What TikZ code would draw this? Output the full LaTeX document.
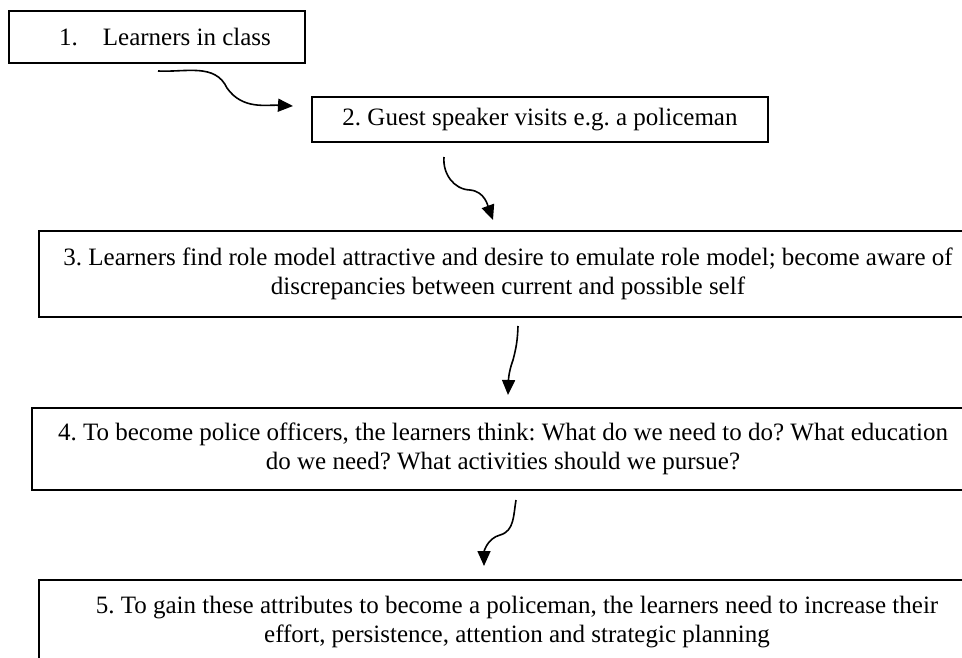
\documentclass[tikz,border=0pt]{standalone}
\usepackage{fontspec}
\setmainfont{Liberation Serif}
\usepackage{tikz}
\usetikzlibrary{arrows.meta, positioning}
\frenchspacing
\tikzset{
  flowbox/.style={draw, line width=1.3pt, align=center, inner sep=0pt, font=\fontsize{25}{29.5}\selectfont},
  flowarrow/.style={line width=1.6pt, -{Triangle[length=15pt,width=13pt]}}
}

\begin{document}
\begin{tikzpicture}[x=1pt, y=-1pt]
  \useasboundingbox (0,0) rectangle (962,657);
  \clip (0,0) rectangle (962,657);
  \node[flowbox, minimum width=296, minimum height=52] (learners) at (157,37) {\hspace*{16pt}1.\quad Learners in class};
  \node[flowbox, minimum width=456, minimum height=45] (speaker) at (540,119.5) {2. Guest speaker visits e.g. a policeman};
  \node[flowbox, minimum width=938, minimum height=86] (rolemodel) at (508,274) {3. Learners find role model attractive and desire to emulate role model; become aware of\\ discrepancies between current and possible self};
  \node[flowbox, minimum width=942, minimum height=82] (think) at (503,449) {4. To become police officers, the learners think: What do we need to do? What education\\ do we need? What activities should we pursue?};
  \node[flowbox, minimum width=956, minimum height=84] (attributes) at (517,622) {5. To gain these attributes to become a policeman, the learners need to increase their\\ effort, persistence, attention and strategic planning};

  \coordinate (a1s) at (158,71);  \coordinate (a1m) at (227,88);  \coordinate (a1e) at (293,106);
  \coordinate (a2s) at (444,157); \coordinate (a2m) at (470,190); \coordinate (a2e) at (493,220);
  \coordinate (a3s) at (518,326); \coordinate (a3m) at (513,360); \coordinate (a3e) at (508,395);
  \coordinate (a4s) at (516,500); \coordinate (a4m) at (500,535); \coordinate (a4e) at (484,566);

  \draw[flowarrow] (a1s) to[out=-3,in=115] (a1m) to[out=-55,in=177] (a1e);
  \draw[flowarrow] (a2s) to[out=-95,in=178] (a2m) to[out=-5,in=110] (a2e);
  \draw[flowarrow] (a3s) to[out=-92,in=75] (a3m) to[out=-110,in=88] (a3e);
  \draw[flowarrow] (a4s) to[out=-100,in=15] (a4m) to[out=-165,in=90] (a4e);
\end{tikzpicture}
\end{document}
